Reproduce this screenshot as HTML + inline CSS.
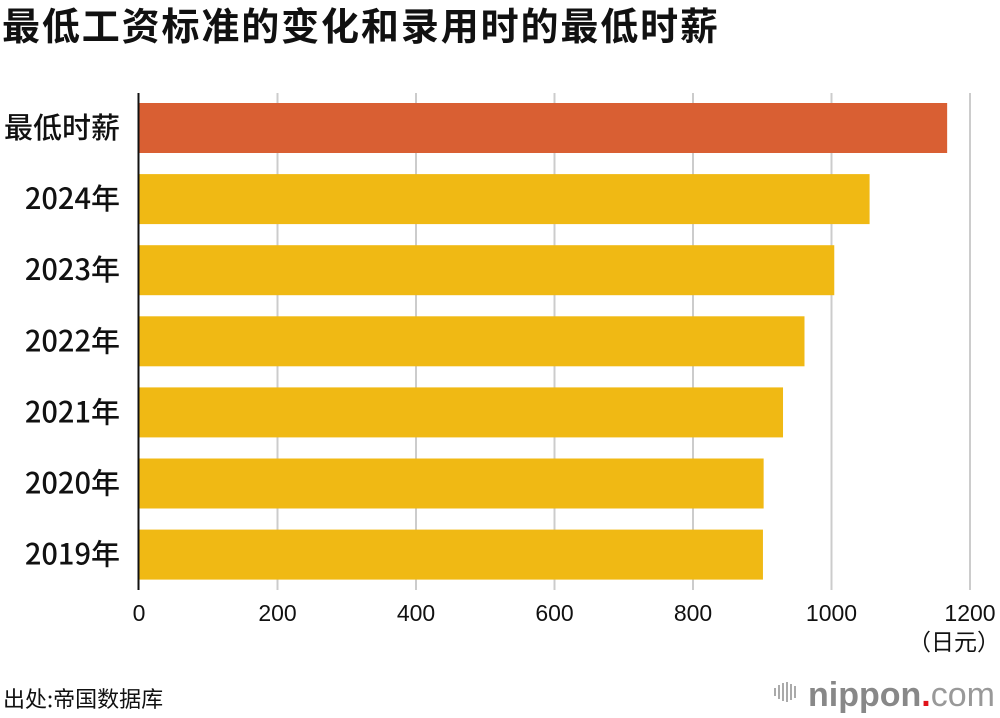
<!DOCTYPE html>
<html><head><meta charset="utf-8"><style>
body{margin:0;background:#fff;}
#c{width:1000px;height:718px;position:relative;overflow:hidden;font-family:"Liberation Sans","Noto Sans CJK SC",sans-serif;}
</style></head><body>
<div id="c">
<svg id="s" width="1000" height="718" xmlns="http://www.w3.org/2000/svg">
<text x="2" y="40" font-size="38" font-weight="bold" fill="#111" textLength="716" font-family="'Noto Sans CJK SC',sans-serif">最低工资标准的变化和录用时的最低时薪</text>
<g id="grid"></g>
<g id="bars"></g>
<line x1="138.5" y1="93" x2="138.5" y2="590" stroke="#111" stroke-width="2"/>
<g id="ylab"></g>
<g id="xlab"></g>
<text x="1000" y="650" font-size="23" text-anchor="end" fill="#111" font-family="'Noto Sans CJK SC',sans-serif">（日元）</text>
<text x="3" y="707" font-size="22" fill="#111" font-family="'Noto Sans CJK SC',sans-serif">出处:帝国数据库</text>
<g>
<g fill="#aaa"><rect x="774" y="688" width="2" height="8"/><rect x="778" y="685" width="2" height="14"/><rect x="782" y="683" width="2" height="18"/><rect x="786" y="682" width="2" height="20"/><rect x="790" y="684" width="2" height="16"/><rect x="794" y="686" width="2" height="12"/></g>
<text x="808" y="706" font-size="34" fill="#888" font-weight="bold">nippon<tspan fill="#e0131a">.</tspan><tspan font-weight="normal" fill="#999">com</tspan></text>
</g>
</svg>
</div>
<script>
const categories=["最低时薪","2024年","2023年","2022年","2021年","2020年","2019年"];
const values=[1167,1055,1004,961,930,902,901];
const colors=["#d95f33","#f0b914","#f0b914","#f0b914","#f0b914","#f0b914","#f0b914"];
const ticks=[0,200,400,600,800,1000,1200];
const NS="http://www.w3.org/2000/svg";
const x=v=>139+v*(831/1200);
const yTop=i=>103+i*71.1;
const g=document.getElementById('grid'),b=document.getElementById('bars'),yl=document.getElementById('ylab'),xl=document.getElementById('xlab');
ticks.forEach(t=>{
 if(t>0){const l=document.createElementNS(NS,'line');
 l.setAttribute('x1',x(t));l.setAttribute('x2',x(t));l.setAttribute('y1',93);l.setAttribute('y2',590);
 l.setAttribute('stroke','#ccc');l.setAttribute('stroke-width','2');
 
 
 g.appendChild(l);}
 const tx=document.createElementNS(NS,'text');
 tx.setAttribute('x',x(t));tx.setAttribute('y',621);tx.setAttribute('font-size','23');tx.setAttribute('text-anchor','middle');tx.setAttribute('fill','#111');
 tx.textContent=t;
 
 
 xl.appendChild(tx);
});
categories.forEach((c,i)=>{
 const r=document.createElementNS(NS,'rect');
 r.setAttribute('x',139);r.setAttribute('y',yTop(i));r.setAttribute('width',x(values[i])-139);r.setAttribute('height',50);r.setAttribute('fill',colors[i]);
 
 
 b.appendChild(r);
 const t=document.createElementNS(NS,'text');
 t.setAttribute('x',120);t.setAttribute('y',yTop(i)+35);t.setAttribute('font-size','29');t.setAttribute('text-anchor','end');t.setAttribute('fill','#111');t.setAttribute('font-weight','500');
 t.setAttribute('font-family',"'Noto Sans CJK SC',sans-serif");
 t.textContent=c;
 
 
 yl.appendChild(t);
});
</script>
</body></html>
